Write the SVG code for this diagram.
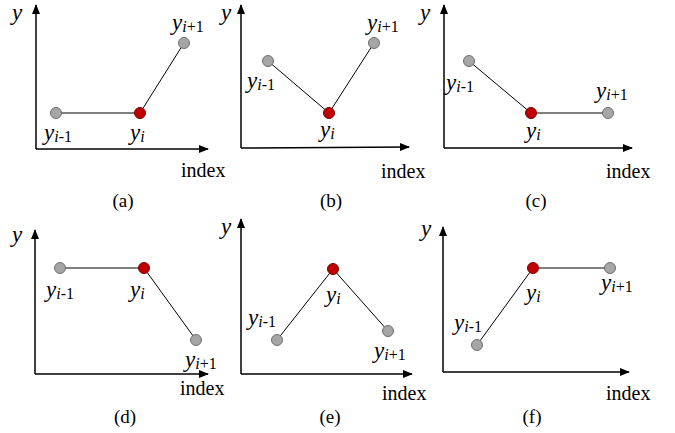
<svg xmlns="http://www.w3.org/2000/svg" width="675" height="433" viewBox="0 0 675 433">
<defs>
<marker id="arr" viewBox="0 0 10 8" refX="9" refY="4" markerWidth="10" markerHeight="8" markerUnits="userSpaceOnUse" orient="auto">
<path d="M0,0 L10,4 L0,8 Z" fill="#000"/>
</marker>
<style>
.ax{stroke:#000;stroke-width:1.5;fill:none;marker-end:url(#arr)}
.ln{stroke:#000;stroke-width:1;fill:none}
.g{fill:#a6a6a6;stroke:#6f6f6f;stroke-width:1}
.r{fill:#c00000;stroke:#7a0000;stroke-width:1}
.v{font-family:'Liberation Serif','Times New Roman',serif;font-style:italic;font-size:23px;fill:#000}
.s{font-size:16px}
.sr{font-size:16px;font-style:normal}
.t{font-family:'Liberation Serif','Times New Roman',serif;font-size:20px;fill:#000}
.c{font-family:'Liberation Serif','Times New Roman',serif;font-size:19px;fill:#000;text-anchor:middle}
</style>
</defs>
<rect width="675" height="433" fill="#fff"/>

<!-- Panel (a) -->
<g id="panel-a">
<g id="a-axes"><path class="ax" d="M36,149 V5"/><path class="ax" d="M36,149 H208"/>
<text class="v" x="12" y="20">y</text><text class="t" x="181" y="177">index</text><text class="c" x="123" y="207">(a)</text></g>
<g id="a-conn"><path class="ln" d="M57,113 H140 L184,43"/></g>
<g id="a-p1"><circle class="g" cx="56" cy="113" r="5.5"/><text class="v" x="44" y="140">y<tspan class="s" dy="2">i</tspan><tspan class="sr">-1</tspan></text></g>
<g id="a-p2"><circle class="r" cx="140" cy="113" r="5.5"/><text class="v" x="130" y="140">y<tspan class="s" dy="2">i</tspan></text></g>
<g id="a-p3"><circle class="g" cx="184" cy="43" r="5.5"/><text class="v" x="172" y="30">y<tspan class="s" dy="2">i</tspan><tspan class="sr">+1</tspan></text></g>
</g>

<!-- Panel (b) -->
<g id="panel-b">
<g id="b-axes"><path class="ax" d="M241,148 V5"/><path class="ax" d="M241,148 L409,147"/>
<text class="v" x="221" y="20">y</text><text class="t" x="381" y="178">index</text><text class="c" x="331" y="207">(b)</text></g>
<g id="b-conn"><path class="ln" d="M268,61 L329,113 L374,43"/></g>
<g id="b-p1"><circle class="g" cx="268" cy="61" r="5.5"/><text class="v" x="247" y="88">y<tspan class="s" dy="2">i</tspan><tspan class="sr">-1</tspan></text></g>
<g id="b-p2"><circle class="r" cx="329" cy="113" r="5.5"/><text class="v" x="320" y="137">y<tspan class="s" dy="2">i</tspan></text></g>
<g id="b-p3"><circle class="g" cx="374" cy="43" r="5.5"/><text class="v" x="367" y="30">y<tspan class="s" dy="2">i</tspan><tspan class="sr">+1</tspan></text></g>
</g>

<!-- Panel (c) -->
<g id="panel-c">
<g id="c-axes"><path class="ax" d="M444,148 V5"/><path class="ax" d="M444,148 H632"/>
<text class="v" x="420" y="20">y</text><text class="t" x="606" y="178">index</text><text class="c" x="536" y="207">(c)</text></g>
<g id="c-conn"><path class="ln" d="M469,61 L531,113 H608"/></g>
<g id="c-p1"><circle class="g" cx="469" cy="61" r="5.5"/><text class="v" x="446" y="90">y<tspan class="s" dy="2">i</tspan><tspan class="sr">-1</tspan></text></g>
<g id="c-p2"><circle class="r" cx="531" cy="113" r="5.5"/><text class="v" x="526" y="138">y<tspan class="s" dy="2">i</tspan></text></g>
<g id="c-p3"><circle class="g" cx="608" cy="113" r="5.5"/><text class="v" x="596" y="98">y<tspan class="s" dy="2">i</tspan><tspan class="sr">+1</tspan></text></g>
</g>

<!-- Panel (d) -->
<g id="panel-d">
<g id="d-axes"><path class="ax" d="M35,374 V230"/><path class="ax" d="M35,374 H208"/>
<text class="v" x="12" y="242">y</text><text class="t" x="180" y="395">index</text><text class="c" x="125" y="423">(d)</text></g>
<g id="d-conn"><path class="ln" d="M60,268 H144 L196,340"/></g>
<g id="d-p1"><circle class="g" cx="60" cy="268" r="5.5"/><text class="v" x="46" y="297">y<tspan class="s" dy="2">i</tspan><tspan class="sr">-1</tspan></text></g>
<g id="d-p2"><circle class="r" cx="144" cy="268" r="5.5"/><text class="v" x="130" y="297">y<tspan class="s" dy="2">i</tspan></text></g>
<g id="d-p3"><circle class="g" cx="196" cy="340" r="5.5"/><text class="v" x="185" y="367">y<tspan class="s" dy="2">i</tspan><tspan class="sr">+1</tspan></text></g>
</g>

<!-- Panel (e) -->
<g id="panel-e">
<g id="e-axes"><path class="ax" d="M241,374 V219"/><path class="ax" d="M241,374 H412"/>
<text class="v" x="221" y="234">y</text><text class="t" x="382" y="400">index</text><text class="c" x="330" y="423">(e)</text></g>
<g id="e-conn"><path class="ln" d="M277,340 L333,269 L388,331"/></g>
<g id="e-p1"><circle class="g" cx="277" cy="340" r="5.5"/><text class="v" x="248" y="325">y<tspan class="s" dy="2">i</tspan><tspan class="sr">-1</tspan></text></g>
<g id="e-p2"><circle class="r" cx="333" cy="269" r="5.5"/><text class="v" x="326" y="302">y<tspan class="s" dy="2">i</tspan></text></g>
<g id="e-p3"><circle class="g" cx="388" cy="331" r="5.5"/><text class="v" x="374" y="358">y<tspan class="s" dy="2">i</tspan><tspan class="sr">+1</tspan></text></g>
</g>

<!-- Panel (f) -->
<g id="panel-f">
<g id="f-axes"><path class="ax" d="M443,372 V227"/><path class="ax" d="M443,372 H629"/>
<text class="v" x="421" y="236">y</text><text class="t" x="606" y="400">index</text><text class="c" x="532" y="423">(f)</text></g>
<g id="f-conn"><path class="ln" d="M477,345 L533,268 H610"/></g>
<g id="f-p1"><circle class="g" cx="477" cy="345" r="5.5"/><text class="v" x="454" y="330">y<tspan class="s" dy="2">i</tspan><tspan class="sr">-1</tspan></text></g>
<g id="f-p2"><circle class="r" cx="533" cy="268" r="5.5"/><text class="v" x="526" y="300">y<tspan class="s" dy="2">i</tspan></text></g>
<g id="f-p3"><circle class="g" cx="610" cy="268" r="5.5"/><text class="v" x="601" y="290">y<tspan class="s" dy="2">i</tspan><tspan class="sr">+1</tspan></text></g>
</g>
</svg>
